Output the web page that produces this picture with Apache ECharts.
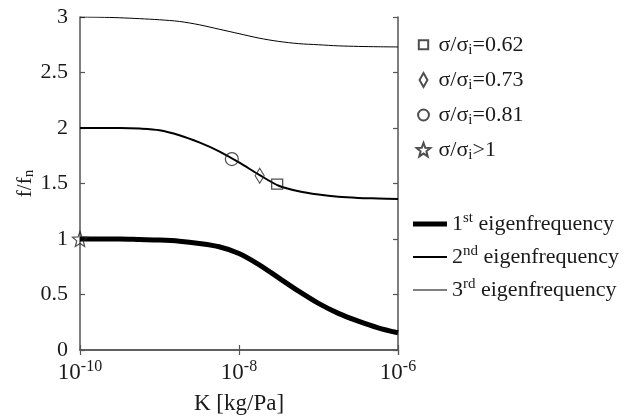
<!DOCTYPE html>
<html><head><meta charset="utf-8">
<script src="https://cdn.jsdelivr.net/npm/echarts@6/dist/echarts.min.js"></script>
<style>html,body{margin:0;padding:0;background:#fff}#c{width:628px;height:419px}</style>
</head><body><div id="c"></div>
<script>
// log10 of K [kg/Pa]
const kExp = [-10, -9.75, -9.5, -9.25, -9, -8.75, -8.5, -8.25, -8, -7.75, -7.5, -7.25, -7, -6.75, -6.5, -6.25, -6];
const eig1 = [1.0, 1.0, 1.0, 0.995, 0.99, 0.98, 0.96, 0.93, 0.87, 0.77, 0.65, 0.53, 0.42, 0.33, 0.26, 0.20, 0.155];
const eig2 = [2.0, 2.0, 2.0, 1.995, 1.98, 1.935, 1.87, 1.79, 1.69, 1.58, 1.48, 1.43, 1.40, 1.38, 1.37, 1.365, 1.36];
const eig3 = [3.0, 2.998, 2.993, 2.985, 2.975, 2.96, 2.93, 2.89, 2.85, 2.81, 2.78, 2.76, 2.75, 2.74, 2.735, 2.732, 2.73];
const lineNames = ['1st eigenfrequency', '2nd eigenfrequency', '3rd eigenfrequency'];
// marker points: [log10 K, f/fn]
const markerNames = ['σ/σi=0.62', 'σ/σi=0.73', 'σ/σi=0.81', 'σ/σi>1'];
const markerExp = [-7.52, -7.74, -8.09, -10];
const markerVal = [1.495, 1.57, 1.72, 1.0];
const xTickExp = [-10, -8, -6];
const yMin = 0, yMax = 3, yStep = 0.5;

const K = e => Math.pow(10, e);
const serif = '"Liberation Serif", "Times New Roman", Times, serif';
const starPath = 'path://M12,1 L14.9,8.6 L23,9.1 L16.8,14.3 L18.8,22.3 L12,17.9 L5.2,22.3 L7.2,14.3 L1,9.1 L9.1,8.6 Z';
const markerSymbols = ['rect', 'diamond', 'circle', starPath];
const markerSizes = [[11, 10], [9, 15], [13, 13], [15, 15]];
// legend icons in a shared 16x16 frame (corner moves fix the frame)
const frame = 'path://M0,0M16,16';
const markerIcons = [
  frame + 'M3,3H13V12.5H3Z',
  frame + 'M8,0.5L12.2,8L8,15.5L3.8,8Z',
  frame + 'M2.2,8A5.8,5.8 0 1,1 13.8,8A5.8,5.8 0 1,1 2.2,8Z',
  frame + 'M8,0.5L9.9,5.6L15.3,5.9L11.1,9.4L12.5,14.8L8,11.8L3.5,14.8L4.9,9.4L0.7,5.9L6.1,5.6Z'
];
const lineWidths = [5, 2, 1];
const lineIcons = ['path://M0,0H34V5H0Z', 'path://M0,0H34V2H0Z', 'path://M0,0H34V1H0Z'];
const eigs = [eig1, eig2, eig3];

const rich = {
  t: {fontFamily: serif, fontSize: 22, color: '#1a1a1a', lineHeight: 26, verticalAlign: 'middle'},
  sub: {fontFamily: serif, fontSize: 15, color: '#1a1a1a', lineHeight: 14, verticalAlign: 'bottom'},
  sup: {fontFamily: serif, fontSize: 15, color: '#1a1a1a', lineHeight: 14, verticalAlign: 'top'}
};
function legendFmt(name) {
  if (name.indexOf('σ/σi') === 0) {
    return '{t|σ/σ}{sub|i}{t|' + name.slice(4) + '}';
  }
  const m = name.match(/^(\d)(st|nd|rd) (.*)$/);
  return '{t|' + m[1] + '}{sup|' + m[2] + '}{t| ' + m[3] + '}';
}
const axRich = {
  b: {fontFamily: serif, fontSize: 23, color: '#1a1a1a', lineHeight: 28, verticalAlign: 'middle'},
  s: {fontFamily: serif, fontSize: 16, color: '#1a1a1a', lineHeight: 14, verticalAlign: 'top'}
};
const nameRich = {
  t: {fontFamily: serif, fontSize: 21, color: '#1a1a1a', lineHeight: 24, verticalAlign: 'middle'},
  sub: {fontFamily: serif, fontSize: 15, color: '#1a1a1a', lineHeight: 12, verticalAlign: 'bottom'}
};

const series = [];
eigs.forEach((arr, i) => {
  series.push({
    name: lineNames[i], type: 'line', xAxisIndex: 0, yAxisIndex: 0,
    data: kExp.map((e, j) => [K(e), arr[j]]),
    smooth: 0.3, symbol: 'none', lineStyle: {color: '#000', width: lineWidths[i]},
    itemStyle: {color: '#000'}, z: 2
  });
});
markerNames.forEach((n, i) => {
  series.push({
    name: n, type: 'scatter', xAxisIndex: 0, yAxisIndex: 0, clip: false,
    data: [[K(markerExp[i]), markerVal[i]]],
    symbol: markerSymbols[i], symbolSize: markerSizes[i],
    itemStyle: {color: 'rgba(255,255,255,0)', borderColor: '#222', borderWidth: 1.2}, z: 5
  });
});

const axisLine = {show: true, lineStyle: {color: '#555', width: 1.5}};
const axisTick = {show: true, inside: true, length: 5, lineStyle: {color: '#555', width: 1.2}};
const chart = echarts.init(document.getElementById('c'));
chart.setOption({
  animation: false,
  backgroundColor: '#fff',
  grid: {left: 80, right: 230, top: 17, bottom: 69, containLabel: false, outerBoundsMode: 'none'},
  legend: [{
    data: markerNames.map((n, i) => ({name: n, icon: markerIcons[i]})),
    orient: 'vertical', left: 410, top: 29, itemWidth: 20, itemHeight: 15, itemGap: 11,
    formatter: legendFmt, textStyle: {rich: rich}
  }, {
    data: lineNames.map((n, i) => ({name: n, icon: lineIcons[i], itemStyle: {color: '#000', borderWidth: 0}})),
    orient: 'vertical', left: 408, top: 206, itemWidth: 34, itemHeight: 12, itemGap: 9,
    formatter: legendFmt, textStyle: {rich: rich}
  }],
  xAxis: [{
    type: 'log', logBase: 100, min: K(xTickExp[0]), max: K(xTickExp[xTickExp.length - 1]),
    position: 'bottom', axisLine: axisLine, axisTick: axisTick, splitLine: {show: false},
    axisLabel: {margin: 9, formatter: v => '{b|10}{s|' + Math.round(Math.log10(v)) + '}', rich: axRich},
    name: '{b|K [kg/Pa]}', nameLocation: 'middle', nameGap: 40, nameMoveOverlap: false,
    nameTextStyle: {rich: axRich}
  }, {
    type: 'log', logBase: 100, min: K(xTickExp[0]), max: K(xTickExp[xTickExp.length - 1]),
    position: 'top', axisLine: axisLine, axisTick: axisTick, axisLabel: {show: false}, splitLine: {show: false}
  }],
  yAxis: [{
    type: 'value', min: yMin, max: yMax, interval: yStep, position: 'left',
    axisLine: axisLine, axisTick: axisTick, splitLine: {show: false},
    axisLabel: {margin: 12, fontFamily: serif, fontSize: 22, color: '#1a1a1a'},
    name: '{t|f/f}{sub|n}', nameLocation: 'middle', nameGap: 43, nameRotate: 90, nameMoveOverlap: false,
    nameTextStyle: {rich: nameRich}
  }, {
    type: 'value', min: yMin, max: yMax, interval: yStep, position: 'right',
    axisLine: axisLine, axisTick: axisTick, axisLabel: {show: false}, splitLine: {show: false}
  }],
  series: series
});
</script></body></html>
